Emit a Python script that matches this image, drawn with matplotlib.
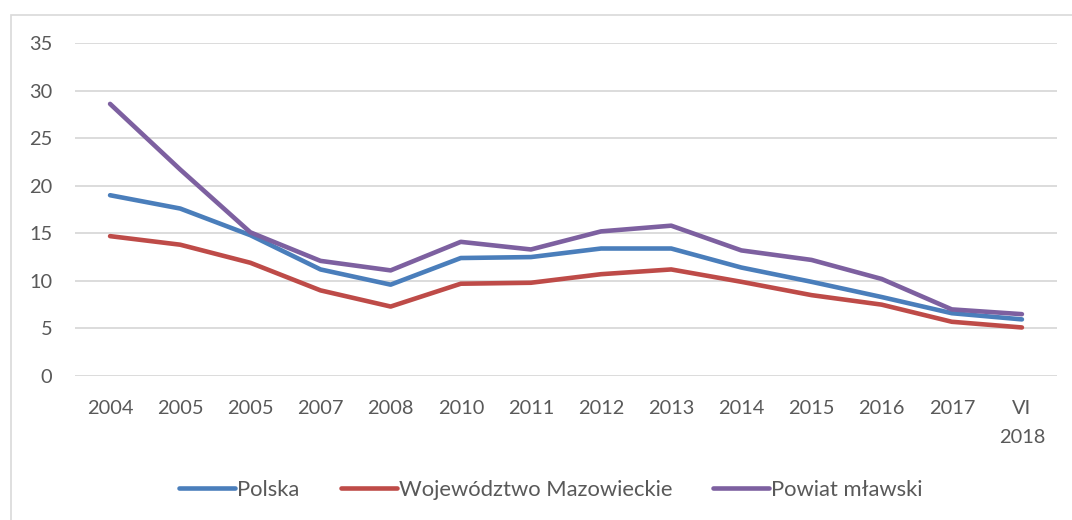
import matplotlib.pyplot as plt
from matplotlib.patches import Rectangle

# dane
lata = ['2004', '2005', '2005', '2007', '2008', '2010', '2011', '2012',
        '2013', '2014', '2015', '2016', '2017', 'VI\n2018']
polska = [19.0, 17.6, 14.8, 11.2, 9.6, 12.4, 12.5, 13.4, 13.4, 11.4, 9.9, 8.3, 6.6, 5.95]
mazowieckie = [14.7, 13.8, 11.9, 9.0, 7.3, 9.7, 9.8, 10.7, 11.2, 9.9, 8.5, 7.5, 5.7, 5.1]
mlawski = [28.6, 21.7, 15.1, 12.1, 11.1, 14.1, 13.3, 15.2, 15.8, 13.2, 12.2, 10.2, 7.0, 6.5]

plt.rcParams['font.family'] = ['Lato', 'DejaVu Sans']
txt = '#595959'

fig = plt.figure(figsize=(10.72, 5.20), dpi=100)
ax = fig.add_axes([75/1072, 1 - 376/520, (1057 - 75)/1072, (376 - 43)/520])

# ramka obszaru wykresu
fig.patches.append(Rectangle((11/1072, -0.1), 1.2, 1 - 15/520 + 0.1,
                             transform=fig.transFigure, fill=False,
                             edgecolor='#d9d9d9', linewidth=1.2))

x = range(len(lata))
lw = 3.3
ax.plot(x, polska, color='#4a7ebb', lw=lw, solid_capstyle='round', label='Polska')
ax.plot(x, mazowieckie, color='#be4b48', lw=lw, solid_capstyle='round', label='Województwo Mazowieckie')
ax.plot(x, mlawski, color='#7d60a0', lw=lw, solid_capstyle='round', label='Powiat mławski')

ax.set_xlim(-0.5, len(lata) - 0.5)
ax.set_ylim(0, 35)
ax.set_yticks(range(0, 36, 5))
ax.set_xticks(list(x))
ax.set_xticklabels(lata)
for t in ax.get_xticklabels():
    t.set_linespacing(1.8)

ax.grid(axis='y', color='#d9d9d9', lw=1.3)
ax.set_axisbelow(True)
for s in ax.spines.values():
    s.set_visible(False)
ax.tick_params(axis='both', length=0, labelsize=14.4, colors=txt)
ax.tick_params(axis='y', pad=16.5)
ax.tick_params(axis='x', pad=17.5)

leg = fig.legend(loc='center', bbox_to_anchor=(0.514, 1 - 490/520), ncol=3,
                 frameon=False, fontsize=15.8, handlelength=2.55,
                 handletextpad=0.1, columnspacing=1.87)
for t in leg.get_texts():
    t.set_color(txt)

fig.savefig('out.png', dpi=100)
